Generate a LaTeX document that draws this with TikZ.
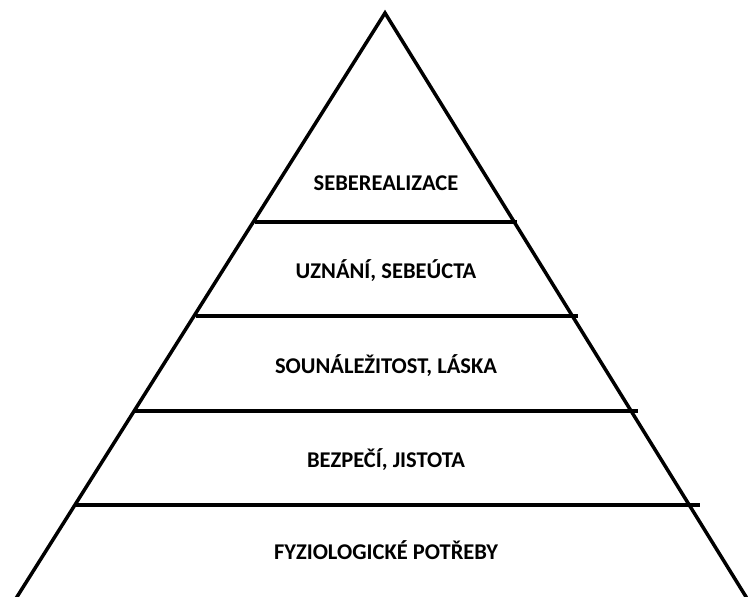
\documentclass[tikz,border=0pt]{standalone}
\usepackage{fontspec}
\setmainfont{Carlito}
\usetikzlibrary{positioning}
\tikzset{
    every node/.style={font=\bfseries\fontsize{22.5}{27}\selectfont},
    level/.style={anchor=base, inner sep=0pt},
}

\begin{document}
\begin{tikzpicture}[x=1pt, y=-1pt, line width=3.5pt]
    \useasboundingbox (0,0) rectangle (748,597);
    \def\mx{386}

    % pyramid outline
    \coordinate (top) at (385,13);
    \coordinate (bl) at (15,600);
    \coordinate (br) at (748,600);
    \draw [line join=miter] (bl) -- (top) -- (br);

    % level dividers
    \foreach \y/\xa/\xb in {222/255/517, 316/196/578, 411/133/638, 505/74/700}{
        \draw (\xa,\y) -- (\xb,\y);
    }

    \node [level] (l5) at (\mx,190) {SEBEREALIZACE};
    \node [level] (l4) at (\mx,278) {UZNÁNÍ, SEBEÚCTA};
    \node [level] (l3) at (\mx,373) {SOUNÁLEŽITOST, LÁSKA};
    \node [level] (l2) at (\mx,467) {BEZPEČÍ, JISTOTA};
    \node [level] (l1) at (\mx,559) {FYZIOLOGICKÉ POTŘEBY};
\end{tikzpicture}
\end{document}
